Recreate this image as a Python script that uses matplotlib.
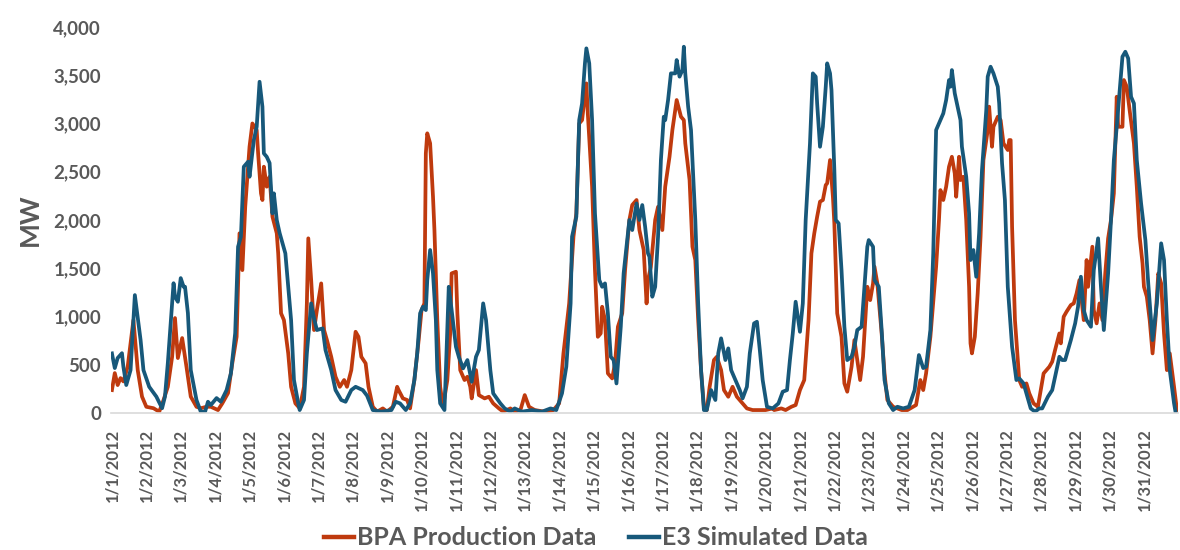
import matplotlib.pyplot as plt
from matplotlib.ticker import FuncFormatter

plt.rcParams['font.family'] = ['Lato', 'DejaVu Sans']
plt.rcParams['font.weight'] = 'bold'

# hours since 1/1/2012 00:00 and MW
bpa_hours = [0, 2, 4, 6, 8, 11, 15, 18, 21, 24, 29, 33, 36, 39, 42, 44, 46, 49, 52, 55,
             59, 62, 66, 69, 74, 77, 81, 84, 87, 89, 91, 93, 94, 96, 98, 101, 102, 104, 105, 106,
             108, 110, 112, 115, 116, 118, 120, 123, 125, 128, 131, 134, 136, 137, 139, 141, 143, 146, 148, 150,
             153, 156, 159, 162, 164, 167, 170, 172, 174, 177, 179, 182, 185, 189, 192, 196, 199, 200, 203, 206,
             208, 211, 214, 216, 218, 219, 220, 222, 224, 225, 227, 229, 231, 234, 236, 237, 240, 241, 243, 246,
             248, 250, 251, 254, 256, 260, 263, 266, 270, 273, 278, 281, 285, 288, 291, 295, 302, 308, 312, 315,
             319, 322, 324, 326, 328, 331, 332, 335, 337, 339, 341, 342, 344, 346, 349, 351, 353, 356, 358, 361,
             363, 366, 368, 371, 373, 374, 376, 379, 381, 384, 386, 387, 389, 391, 393, 394, 397, 399, 400, 403,
             405, 407, 409, 411, 413, 415, 417, 420, 422, 425, 427, 430, 433, 436, 439, 443, 447, 452, 456, 461,
             462, 467, 470, 474, 477, 480, 483, 486, 488, 490, 492, 494, 496, 498, 499, 501, 503, 504, 506, 509,
             511, 513, 516, 518, 519, 522, 524, 527, 529, 531, 532, 534, 537, 539, 541, 545, 551, 555, 559, 561,
             564, 566, 568, 571, 575, 577, 578, 580, 582, 584, 586, 588, 589, 591, 592, 594, 596, 598, 599, 600,
             602, 604, 606, 608, 611, 612, 614, 615, 618, 620, 622, 625, 626, 627, 628, 630, 633, 635, 638, 640,
             643, 646, 648, 650, 654, 656, 658, 661, 662, 664, 666, 669, 671, 673, 675, 678, 680, 681, 684, 685,
             687, 689, 691, 693, 695, 697, 699, 701, 702, 705, 706, 708, 710, 713, 715, 717, 719, 720, 722, 724,
             726, 728, 730, 732, 734, 736, 738, 741, 743]
bpa_mw = [238, 414, 290, 362, 328, 480, 963, 445, 170, 65, 50, 14, 135, 272, 583, 984, 570, 777, 480, 170,
          65, 50, 65, 65, 31, 100, 207, 518, 790, 1862, 1481, 2137, 2345, 2759, 3000, 2932, 2690, 2276, 2207, 2552,
          2345, 2448, 2034, 1862, 1654, 1033, 963, 618, 272, 100, 50, 272, 1136, 1810, 1378, 860, 1067, 1343, 860, 756,
          583, 376, 272, 342, 272, 445, 842, 790, 583, 515, 272, 65, 14, 48, 14, 65, 272, 238, 152, 135,
          48, 342, 756, 1067, 1136, 2690, 2898, 2794, 2241, 1896, 963, 272, 65, 342, 825, 1447, 1464, 1033, 445, 342,
          376, 272, 152, 445, 186, 152, 169, 100, 48, 14, 48, 14, 31, 186, 65, 31, 14, 31, 100, 618,
          1136, 1827, 2069, 3000, 3035, 3415, 3104, 2345, 1481, 790, 825, 1101, 963, 411, 359, 515, 894, 1033, 1481, 2000,
          2155, 2207, 1896, 1689, 1136, 1378, 1516, 2000, 2137, 1896, 2345, 2448, 2655, 2932, 3139, 3243, 3070, 3035, 2794, 2414,
          1723, 1585, 963, 445, 65, 31, 272, 549, 583, 445, 238, 169, 272, 169, 117, 48, 31, 31, 31, 48,
          31, 48, 31, 65, 83, 238, 342, 963, 1654, 1862, 2034, 2190, 2207, 2362, 2380, 2621, 2241, 1965, 1033, 790,
          307, 221, 480, 756, 653, 342, 583, 1308, 1170, 1343, 1516, 1343, 825, 411, 135, 65, 31, 31, 65, 83,
          342, 238, 411, 790, 1516, 2000, 2310, 2207, 2345, 2552, 2655, 2483, 2241, 2655, 2414, 2448, 2000, 1308, 722, 618,
          790, 1239, 1827, 2621, 2932, 3174, 2759, 2966, 3070, 3035, 2794, 2725, 2828, 2828, 1930, 963, 342, 272, 307, 204,
          100, 65, 238, 411, 480, 532, 653, 825, 722, 998, 1050, 1119, 1136, 1239, 1378, 963, 1585, 1308, 1723, 1067,
          929, 1136, 963, 1447, 1810, 2000, 2276, 3277, 2966, 2966, 3450, 3381, 3139, 2794, 2345, 1827, 1551, 1308, 1205, 963,
          618, 963, 1447, 1343, 825, 445, 618, 272, 31]

e3_hours = [0, 2, 4, 7, 8, 10, 13, 16, 20, 22, 26, 31, 35, 37, 39, 43, 44, 46, 48, 50,
            51, 53, 55, 59, 62, 65, 67, 69, 73, 76, 80, 83, 86, 88, 90, 92, 95, 96, 99, 101,
            103, 105, 106, 108, 110, 112, 113, 115, 117, 119, 121, 123, 125, 127, 130, 131, 134, 136, 139, 141,
            143, 147, 149, 153, 156, 160, 163, 167, 170, 175, 178, 182, 188, 195, 198, 201, 205, 208, 211, 213,
            215, 217, 219, 220, 222, 224, 226, 227, 229, 232, 233, 235, 237, 240, 242, 245, 248, 251, 254, 256,
            259, 261, 264, 266, 271, 274, 278, 281, 286, 293, 300, 306, 310, 314, 317, 320, 321, 324, 326, 328,
            330, 331, 333, 335, 337, 340, 342, 344, 346, 348, 350, 352, 355, 357, 359, 361, 363, 366, 368, 370,
            372, 374, 375, 377, 379, 381, 383, 385, 386, 388, 390, 393, 394, 396, 398, 399, 400, 402, 404, 407,
            409, 411, 413, 415, 418, 421, 423, 425, 428, 430, 432, 435, 438, 440, 443, 445, 448, 450, 452, 454,
            457, 461, 465, 468, 471, 473, 475, 477, 480, 482, 484, 487, 489, 491, 492, 494, 496, 498, 499, 501,
            502, 504, 505, 507, 509, 511, 513, 516, 518, 520, 523, 525, 527, 528, 531, 532, 535, 537, 539, 542,
            545, 548, 552, 556, 560, 563, 566, 568, 571, 573, 575, 578, 580, 582, 584, 585, 586, 588, 590, 592,
            593, 596, 598, 599, 601, 603, 605, 607, 610, 611, 613, 615, 618, 619, 621, 623, 625, 628, 631, 633,
            636, 638, 641, 644, 647, 649, 653, 656, 658, 661, 663, 665, 669, 672, 674, 676, 678, 680, 683, 685,
            688, 690, 692, 695, 697, 699, 701, 704, 705, 707, 709, 711, 713, 715, 718, 721, 723, 726, 729, 732,
            734, 736, 738, 741, 742]
e3_mw = [618, 466, 570, 620, 480, 290, 445, 1222, 756, 445, 272, 170, 50, 170, 518, 1345, 1205, 1153, 1398, 1308,
         1308, 1036, 445, 135, 14, 14, 117, 83, 155, 117, 238, 411, 828, 1723, 1827, 2552, 2604, 2448, 2828, 2966,
         3432, 3173, 2690, 2655, 2590, 2069, 2276, 2000, 1865, 1758, 1654, 1308, 963, 342, 100, 31, 135, 618, 1136, 981,
         860, 877, 653, 445, 238, 135, 117, 238, 272, 238, 180, 31, 14, 31, 117, 100, 31, 100, 342, 618,
         1033, 1101, 1067, 1378, 1689, 1447, 963, 445, 100, 31, 445, 1308, 1067, 687, 583, 463, 549, 324, 583, 653,
         1136, 963, 445, 204, 100, 48, 14, 48, 14, 31, 14, 48, 31, 204, 480, 1136, 1827, 2034, 3035, 3208,
         3623, 3778, 3623, 3035, 2069, 1378, 1308, 1343, 1033, 583, 549, 307, 894, 1447, 1723, 2000, 1896, 2172, 2000, 2155,
         1930, 1654, 1620, 1205, 1308, 1827, 2621, 3070, 3035, 3243, 3519, 3519, 3657, 3485, 3553, 3795, 3519, 3174, 2932, 2000,
         1136, 445, 31, 31, 238, 135, 618, 774, 549, 670, 445, 342, 238, 152, 272, 618, 929, 946, 653, 342,
         65, 48, 100, 221, 238, 549, 825, 1153, 842, 1136, 2000, 2794, 3519, 3485, 3208, 2759, 2966, 3381, 3623, 3519,
         3347, 2517, 2000, 1965, 1481, 894, 549, 583, 687, 860, 894, 1308, 1723, 1792, 1723, 1378, 1308, 860, 342, 100,
         31, 65, 48, 65, 238, 601, 466, 480, 860, 1654, 2932, 3035, 3104, 3243, 3450, 3381, 3553, 3312, 3174, 3035,
         2759, 2448, 2069, 1585, 1689, 1412, 1862, 2517, 3139, 3485, 3588, 3519, 3381, 3208, 2587, 2207, 1308, 687, 342, 359,
         307, 204, 48, 14, 48, 48, 169, 238, 376, 583, 549, 549, 756, 929, 1101, 1412, 1067, 963, 894, 1481,
         1810, 1308, 860, 1447, 2000, 2621, 2966, 3519, 3692, 3743, 3674, 3277, 3208, 2621, 2172, 1792, 1343, 756, 1136, 1758,
         1585, 963, 445, 100, 14]

day_labels = [f"1/{d}/2012" for d in range(1, 32)]

text_gray = '#595959'

fig = plt.figure(figsize=(11.8, 5.5), dpi=100)
ax = fig.add_axes([0.094, 0.249, 0.904, 0.702])

ax.plot(bpa_hours, bpa_mw, color='#BF3A0E', lw=2.7, label='BPA Production Data')
ax.plot(e3_hours, e3_mw, color='#17587A', lw=2.7, label='E3 Simulated Data')

ax.set_xlim(-0.7, 743.5)
ax.set_ylim(0, 4000)
ax.set_yticks(range(0, 4001, 500))
ax.yaxis.set_major_formatter(FuncFormatter(lambda v, p: f"{int(v):,}"))
ax.set_xticks([24 * i for i in range(len(day_labels))])
ax.set_xticklabels(day_labels, rotation=90)

ax.tick_params(axis='y', length=0, pad=7, labelsize=13.5, labelcolor=text_gray)
ax.tick_params(axis='x', length=0, pad=11, labelsize=12, labelcolor=text_gray)

for s in ['top', 'right', 'left']:
    ax.spines[s].set_visible(False)
ax.spines['bottom'].set_color('#D9D9D9')
ax.spines['bottom'].set_linewidth(1.2)

ax.set_ylabel('MW', fontsize=19, fontweight='bold', color=text_gray, labelpad=8)

leg = fig.legend(loc='center', bbox_to_anchor=(0.505, 0.022), ncol=2, frameon=False,
                 fontsize=18, handlelength=1.2, handletextpad=0.12, columnspacing=1.3,
                 labelcolor=text_gray)
for t in leg.get_texts():
    t.set_fontweight('bold')
for ln in leg.get_lines():
    ln.set_linewidth(3.2)

fig.savefig('out.png', dpi=100)
